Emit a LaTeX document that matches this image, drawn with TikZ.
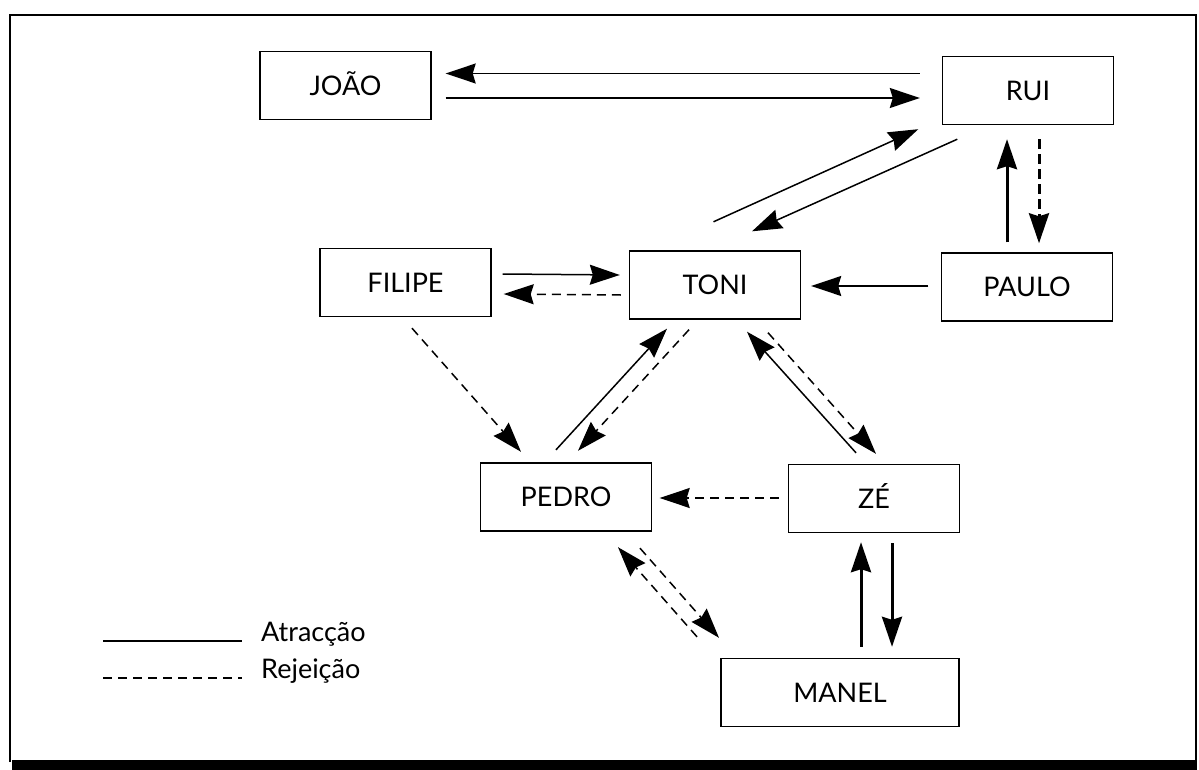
\documentclass[tikz,border=0pt]{standalone}
\usepackage{fontspec}
\newfontfamily\labfont{Lato}
\usetikzlibrary{arrows.meta,calc}
\begin{document}
\begin{tikzpicture}[x=1pt,y=-1pt,
  person/.style={draw, line width=1.4pt, minimum width=171pt, minimum height=68pt, inner sep=0pt,
    font=\labfont\fontsize{27}{31}\selectfont, text height=19.5pt, text depth=0pt},
  legtext/.style={anchor=base west, inner sep=0pt, font=\labfont\fontsize{27}{31}\selectfont},
  tipstyle/.style={-{Stealth[length=30pt,width=20pt,inset=3pt]}},
  att/.style={line width=1.5pt, tipstyle},
  rej/.style={line width=1.5pt, dash pattern=on 9pt off 6pt, tipstyle},
  attthick/.style={line width=3pt, tipstyle},
  rejthick/.style={line width=3pt, dash pattern=on 10pt off 5pt, tipstyle},
  frameline/.style={line width=2.5pt}
]
\useasboundingbox (0,0) rectangle (1199,770);
% frame
\draw[frameline] (10,762) -- (10,15) -- (1196,15) -- (1196,763);
\fill (12,760) rectangle (1197,770);

% nodes
\node[person] (joao)   at (345.5,85.5) {JOÃO};
\node[person] (rui)    at (1028,90.5) {RUI};
\node[person] (toni)   at (715,285) {TONI};
\node[person] (paulo)  at (1027,287) {PAULO};
\node[person] (filipe) at (405.5,282.5) {FILIPE};
\node[person] (pedro)  at (566,497) {PEDRO};
\node[person] (ze)     at (874,498.5) {ZÉ};
\node[person, minimum width=238pt] (manel) at (840,692.5) {MANEL};

% JOÃO - RUI
\draw[att] ($(rui.west)+(-22,-17)$) -- ($(joao.east)+(14,-12)$);
\draw[att] ($(joao.east)+(14,12.5)$) -- ($(rui.west)+(-22,7.5)$);
% TONI - RUI
\draw[att] ($(toni.north)+(-1.5,-28.5)$) -- ($(rui.south west)+(-23.5,4)$);
\draw[att] ($(rui.south west)+(15.5,14)$) -- ($(toni.north)+(37,-19)$);
% PAULO - RUI
\draw[attthick] ($(paulo.north)+(-20,-10)$) -- ($(rui.south)+(-21,14)$);
\draw[rejthick] ($(rui.south)+(11,14)$) -- ($(paulo.north)+(12,-9)$);
% PAULO -> TONI
\draw[att] ($(paulo.west)+(-12.5,-1)$) -- ($(toni.east)+(10,1)$);
% FILIPE - TONI
\draw[att] ($(filipe.east)+(11,-8.5)$) -- ($(toni.west)+(-9,-10)$);
\draw[rej] ($(toni.west)+(-8,10)$) -- ($(filipe.east)+(12,11.5)$);
% FILIPE -> PEDRO
\draw[rej] ($(filipe.south)+(6.5,11)$) -- ($(pedro.north)+(-45,-10.5)$);
% PEDRO - TONI
\draw[att] ($(pedro.north)+(-10,-12.5)$) -- ($(toni.south)+(-48,9)$);
\draw[rej] ($(toni.south)+(-26,10)$) -- ($(pedro.north)+(12,-11.5)$);
% ZE - TONI
\draw[att] ($(ze.north)+(-18,-11)$) -- ($(toni.south)+(32,12)$);
\draw[rej] ($(toni.south)+(53,13)$) -- ($(ze.north)+(2,-10)$);
% ZE -> PEDRO
\draw[rej] ($(ze.west)+(-9,-0.5)$) -- ($(pedro.east)+(7.5,1)$);
% MANEL - PEDRO
\draw[rej] ($(manel.north)+(-143,-21)$) -- ($(pedro.south)+(52,15.5)$);
\draw[rej] ($(pedro.south)+(74,16.5)$) -- ($(manel.north)+(-121,-20)$);
% MANEL - ZE
\draw[attthick] ($(manel.north)+(21,-11)$) -- ($(ze.south)+(-13,9)$);
\draw[attthick] ($(ze.south)+(18,10)$) -- ($(manel.north)+(52,-11)$);

% legend
\coordinate (la1) at (103,641);
\coordinate (la2) at (242,641);
\coordinate (lr1) at (103,678);
\coordinate (lr2) at (242,678);
\draw[line width=1.5pt] (la1) -- (la2);
\draw[line width=1.5pt, dash pattern=on 9pt off 6pt] (lr1) -- (lr2);
\node[legtext] (latr) at (261,641) {Atracção};
\node[legtext] (lrej) at (261,678) {Rejeição};
\end{tikzpicture}
\end{document}
